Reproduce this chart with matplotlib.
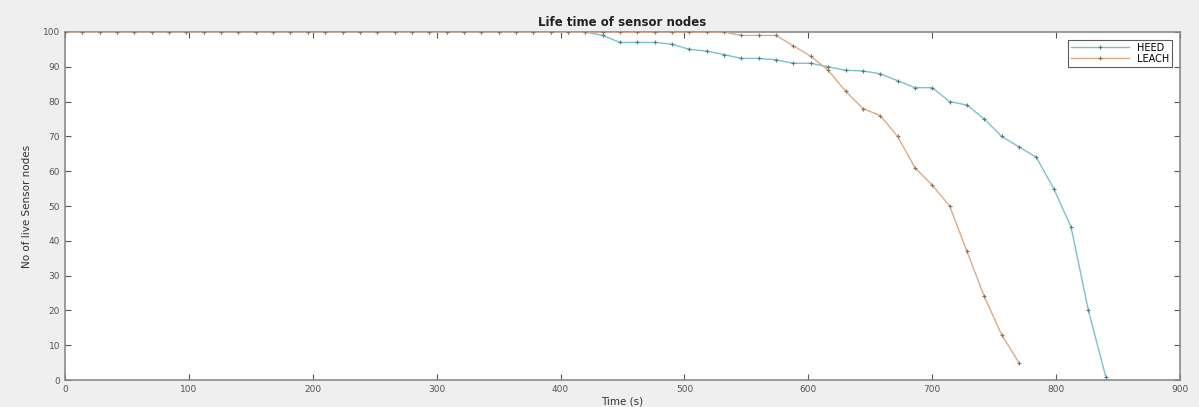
import matplotlib
matplotlib.use("Agg")
import matplotlib.pyplot as plt
import numpy as np

# Time grid (s): sampled every 14 s
time_heed = list(range(0, 841, 14))
time_leach = list(range(0, 771, 14))

heed_tail = [99, 97, 97, 97, 96.5, 95, 94.5, 93.5, 92.4, 92.4, 92, 91, 91, 90, 89,
             88.8, 88, 86, 84, 84, 80, 79, 75, 70, 67, 64, 55, 44, 20, 1]
heed = [100] * (len(time_heed) - len(heed_tail)) + heed_tail

leach_tail = [99, 99, 99, 96, 93, 89, 83, 78, 76, 70, 61, 56, 50, 37, 24, 13, 5]
leach = [100] * (len(time_leach) - len(leach_tail)) + leach_tail

title = "Life time of sensor nodes"
xlabel = "Time (s)"
ylabel = "No of live Sensor nodes"
xticks = list(range(0, 901, 100))
yticks = list(range(0, 101, 10))

fig = plt.figure(figsize=(11.99, 4.07), dpi=100)
fig.patch.set_facecolor("#efefef")
ax = fig.add_axes([0.0542, 0.0663, 0.9300, 0.8551])
ax.set_facecolor("white")

ax.plot(time_heed, heed, color="#7cc0cf", lw=1.0, marker="+", ms=3.5, mew=0.8,
        mec="#4a7f8a", label="HEED", zorder=3)
ax.plot(time_leach, leach, color="#dcaa85", lw=1.0, marker="+", ms=3.5, mew=0.8,
        mec="#8f7058", label="LEACH", zorder=3)

ax.set_xlim(0, 900)
ax.set_ylim(0, 100)
ax.set_xticks(xticks)
ax.set_yticks(yticks)
ax.tick_params(direction="in", length=4, labelsize=6.5, colors="#555555",
               top=True, right=True)
for s in ax.spines.values():
    s.set_color("#8a8a8a")
    s.set_linewidth(1.2)

ax.set_title(title, fontsize=8.5, fontweight="bold", pad=4, color="#222222")
ax.set_xlabel(xlabel, fontsize=7.5, labelpad=2, color="#333333")
ax.set_ylabel(ylabel, fontsize=7.5, labelpad=8, color="#333333")

leg = ax.legend(loc="upper right", fontsize=7, frameon=True, fancybox=False,
                edgecolor="#333333", borderaxespad=0.8, handlelength=6,
                borderpad=0.3, labelspacing=0.1)
leg.get_frame().set_linewidth(0.8)
leg.set_zorder(5)

fig.savefig("out.png", dpi=100, facecolor=fig.get_facecolor())
